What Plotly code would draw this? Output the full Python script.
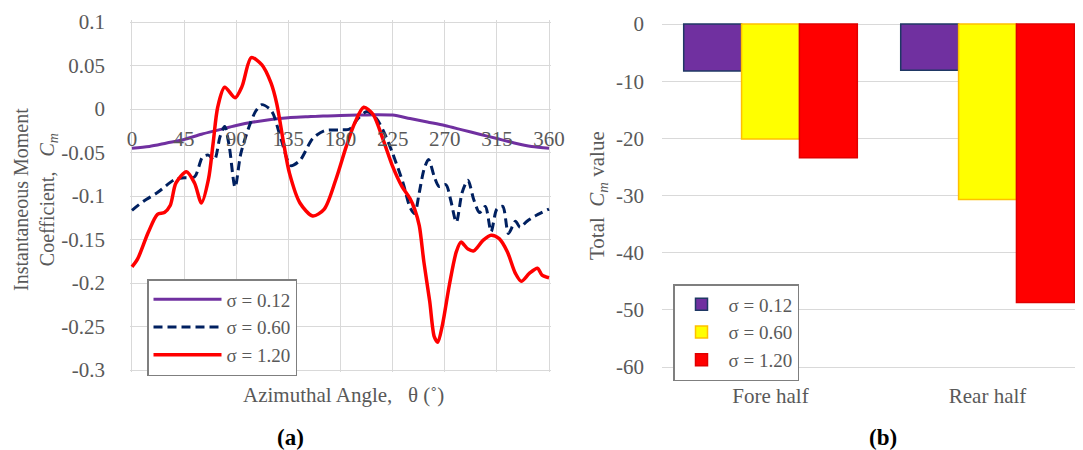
import plotly.graph_objects as go

# ---------------- data: panel (a) ----------------
theta_012 = [0, 15, 30, 45, 60, 75, 90, 105, 120, 135, 150, 165, 180, 195, 210, 225,
             240, 255, 270, 285, 300, 315, 330, 345, 360]
cm_012 = [-0.045, -0.043, -0.039, -0.035, -0.029, -0.024, -0.019, -0.015, -0.012, -0.010,
          -0.009, -0.008, -0.0075, -0.007, -0.0065, -0.007, -0.011, -0.015, -0.019, -0.024,
          -0.029, -0.034, -0.039, -0.043, -0.045]

theta_060 = [0, 10, 22, 37, 45, 54, 61, 66, 71, 76, 80, 84, 89, 94, 102, 107, 112, 119, 122,
             129, 137, 145, 156, 166, 180, 188, 195, 203, 211, 218, 225, 234, 240, 244, 248,
             252, 256, 261, 265, 271, 275, 280, 285, 290, 295, 300, 305, 310, 315, 320, 325,
             331, 335, 341, 348, 360]
cm_060 = [-0.1165, -0.106, -0.096, -0.081, -0.079, -0.078, -0.055, -0.053, -0.059, -0.032,
          -0.020, -0.043, -0.090, -0.051, -0.017, -0.002, 0.005, 0.0, -0.006, -0.036, -0.065,
          -0.059, -0.034, -0.025, -0.024, -0.023, -0.011, -0.003, -0.011, -0.028, -0.051,
          -0.085, -0.113, -0.120, -0.096, -0.070, -0.058, -0.078, -0.089, -0.087, -0.104,
          -0.130, -0.096, -0.082, -0.104, -0.119, -0.112, -0.141, -0.115, -0.112, -0.143,
          -0.129, -0.136, -0.129, -0.123, -0.115]

theta_120 = [0, 5, 14, 22, 28, 33, 38, 47, 54, 60, 66, 70, 74, 80, 89, 95, 103, 112, 120, 125,
             131, 136, 145, 156, 166, 176, 185, 192, 200, 208, 217, 225, 233, 240, 244, 248,
             252, 257, 261, 264, 268, 274, 280, 284, 290, 295, 303, 310, 317, 324, 331, 336,
             343, 350, 354, 360]
cm_120 = [-0.1815, -0.172, -0.142, -0.121, -0.119, -0.111, -0.085, -0.072, -0.085, -0.108,
          -0.081, -0.040, 0.002, 0.025, 0.013, 0.026, 0.059, 0.051, 0.030, 0.006, -0.040,
          -0.074, -0.108, -0.123, -0.115, -0.081, -0.043, -0.017, 0.002, -0.006, -0.036,
          -0.066, -0.089, -0.103, -0.115, -0.134, -0.176, -0.221, -0.262, -0.268, -0.248,
          -0.202, -0.164, -0.153, -0.161, -0.163, -0.151, -0.145, -0.149, -0.164, -0.189,
          -0.198, -0.189, -0.183, -0.191, -0.194]

x_ticks_a = [0, 45, 90, 135, 180, 225, 270, 315, 360]
x_ticktext_a = ["0", "45", "90", "135", "180", "225", "270", "315", "360"]
y_ticks_a = [0.1, 0.05, 0, -0.05, -0.1, -0.15, -0.2, -0.25, -0.3]
y_ticktext_a = ["0.1", "0.05", "0", "-0.05", "-0.1", "-0.15", "-0.2", "-0.25", "-0.3"]

# ---------------- data: panel (b) ----------------
categories = ["Fore half", "Rear half"]
total_012 = [-8.2, -8.1]
total_060 = [-20.1, -30.7]
total_120 = [-23.4, -48.7]
y_ticks_b = [0, -10, -20, -30, -40, -50, -60]
y_ticktext_b = ["0", "-10", "-20", "-30", "-40", "-50", "-60"]

series_names = ["σ = 0.12", "σ = 0.60", "σ = 1.20"]

# ---------------- styling ----------------
FONT = "Liberation Serif"
GRAY = "#595959"
GRID = "#d9d9d9"
OFF = 8                      # page body margin in the browser
W, H = 1083 - OFF, 450 - OFF


def px_x(p):
    """screen x pixel -> paper fraction"""
    return (p - OFF) / W


def px_y(p):
    """screen y pixel -> paper fraction"""
    return 1 - (p - OFF) / H


fig = go.Figure()

fig.add_trace(go.Scatter(x=theta_012, y=cm_012, mode="lines", name=series_names[0],
                         line=dict(color="#7030A0", width=3, shape="spline", smoothing=0.8),
                         xaxis="x", yaxis="y", legend="legend"))
fig.add_trace(go.Scatter(x=theta_060, y=cm_060, mode="lines", name=series_names[1],
                         line=dict(color="#002060", width=3, dash="9px,5px", shape="spline",
                                   smoothing=0.8),
                         xaxis="x", yaxis="y", legend="legend"))
fig.add_trace(go.Scatter(x=theta_120, y=cm_120, mode="lines", name=series_names[2],
                         line=dict(color="#FF0000", width=3.5, shape="spline", smoothing=0.8),
                         xaxis="x", yaxis="y", legend="legend"))

bar_fill = ["#7030A0", "#FFFF00", "#FF0000"]
bar_edge = ["#1F3864", "#FFC000", "#E00000"]
for vals, name, fc, ec in zip([total_012, total_060, total_120], series_names, bar_fill, bar_edge):
    fig.add_trace(go.Bar(x=categories, y=vals, name=name,
                         marker=dict(color=fc, line=dict(color=ec, width=1.5)),
                         xaxis="x2", yaxis="y2", legend="legend2"))

axis_font = dict(family=FONT, size=21, color=GRAY)

fig.update_layout(
    width=W, height=H,
    margin=dict(l=0, r=0, t=0, b=0, autoexpand=False),
    paper_bgcolor="white", plot_bgcolor="white",
    font=dict(family=FONT, color=GRAY),
    showlegend=True,
    barmode="group", bargap=0.2, bargroupgap=0,
    xaxis=dict(domain=[px_x(130), px_x(551)], range=[-1.7, 361.7], anchor="free",
               position=px_y(124), tickvals=x_ticks_a, ticktext=x_ticktext_a,
               showgrid=True, gridcolor=GRID, gridwidth=1.3, zeroline=False,
               showline=False, ticks="", tickfont=axis_font, automargin=False),
    yaxis=dict(domain=[px_y(372), px_y(20)], range=[-0.3023, 0.1023], anchor="x",
               tickvals=y_ticks_a, ticktext=y_ticktext_a, showgrid=True,
               gridcolor=GRID, gridwidth=1.3, zeroline=False, showline=False,
               ticks="", tickfont=axis_font, ticklabelstandoff=24, automargin=False),
    xaxis2=dict(domain=[px_x(662), 1.0], range=[-0.5, 1.44], anchor="y2",
                showgrid=False, zeroline=False, showline=False, ticks="",
                tickfont=axis_font, ticklabelstandoff=12, automargin=False),
    yaxis2=dict(domain=[px_y(369), px_y(22)], range=[-60.35, 0.35], anchor="x2",
                tickvals=y_ticks_b, ticktext=y_ticktext_b, showgrid=True,
                gridcolor=GRID, gridwidth=1.3, zeroline=False, showline=False,
                ticks="", tickfont=axis_font, ticklabelstandoff=17, automargin=False),
    legend=dict(x=px_x(147), y=px_y(279), xanchor="left", yanchor="top",
                bgcolor="white", bordercolor="#7f7f7f", borderwidth=1.5,
                font=dict(family=FONT, size=19, color=GRAY),
                itemwidth=68),
    legend2=dict(x=px_x(673), y=px_y(284), xanchor="left", yanchor="top",
                 bgcolor="white", bordercolor="#7f7f7f", borderwidth=1.5,
                 font=dict(family=FONT, size=19, color=GRAY), traceorder="normal",
                 itemwidth=44),
)

annotations = [
    dict(text="Instantaneous Moment<br>Coefficient,\u00a0\u00a0\u00a0<i>C<sub>m</sub></i>",
         x=px_x(35), y=px_y(200), textangle=-90, font=dict(family=FONT, size=20, color=GRAY)),
    dict(text="Azimuthal Angle,\u00a0\u00a0\u00a0θ (˚)", x=px_x(343), y=px_y(395),
         font=dict(family=FONT, size=21, color=GRAY)),
    dict(text="<b>(a)</b>", x=px_x(290), y=px_y(437), font=dict(family=FONT, size=23, color="black")),
    dict(text="Total\u00a0\u00a0<i>C<sub>m</sub></i>\u00a0value", x=px_x(598), y=px_y(196),
         textangle=-90, font=dict(family=FONT, size=21, color=GRAY)),
    dict(text="<b>(b)</b>", x=px_x(883), y=px_y(437), font=dict(family=FONT, size=23, color="black")),
]
for a in annotations:
    a.update(xref="paper", yref="paper", showarrow=False, xanchor="center", yanchor="middle")
fig.update_layout(annotations=annotations)

fig.write_html("out.html")
